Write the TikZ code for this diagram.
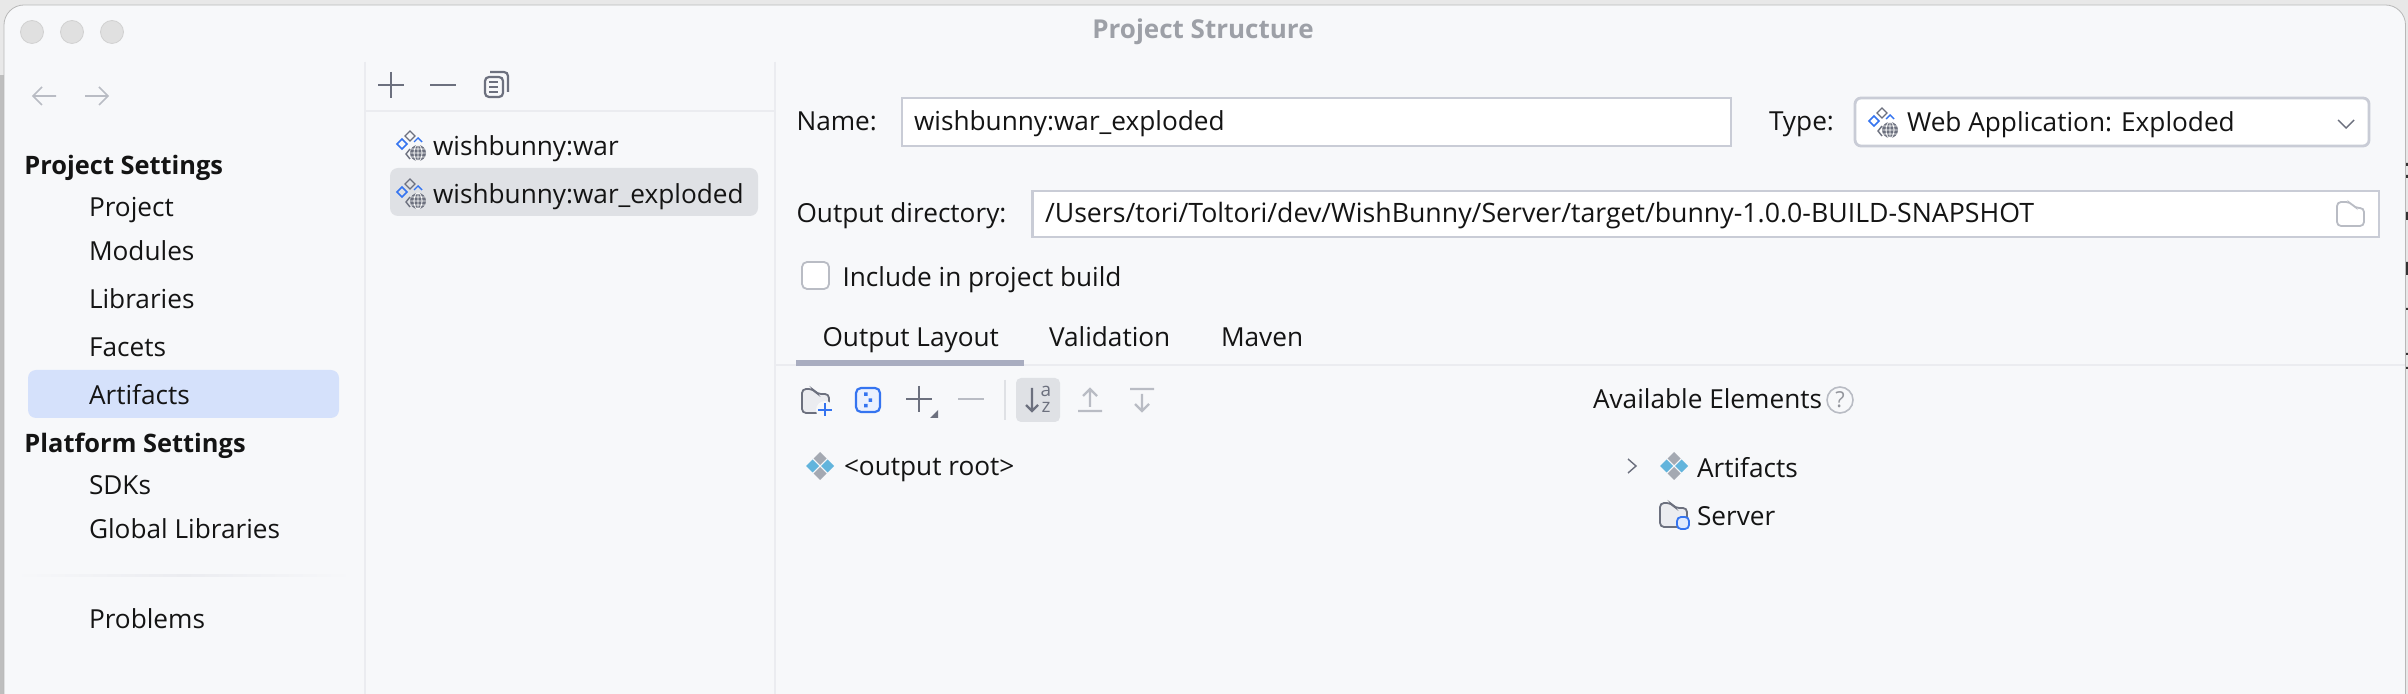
\documentclass[tikz,border=0pt]{standalone}
\usepackage{fontspec}
\setmainfont{Open Sans}
\usetikzlibrary{shapes,arrows}
\definecolor{winbg}{HTML}{F7F8FA}
\definecolor{outerbg}{HTML}{E8E8E8}
\definecolor{leftedge}{HTML}{BEBEBE}
\definecolor{divider}{HTML}{EBECF0}
\definecolor{fieldline}{HTML}{C9CCD6}
\definecolor{picked}{HTML}{DFE1E5}
\definecolor{pickedblue}{HTML}{D5E1FB}
\definecolor{iconblue}{HTML}{3574F0}
\definecolor{icongrey}{HTML}{6C707E}
\definecolor{icondim}{HTML}{B9BCC4}
\definecolor{skyblue}{HTML}{62B4DC}
\definecolor{stonegrey}{HTML}{A4A9B2}
\definecolor{tabline}{HTML}{A9ADC0}

\begin{document}
\begin{tikzpicture}
[x=0.5pt,y=-0.5pt]
\tikzset{
	uitext/.style = {anchor=base west, inner sep=0, outer sep=0, text=black!92, font=\fontsize{13.1}{16}\selectfont},
	head/.style = {uitext, font=\fontsize{12.7}{16}\selectfont\bfseries},
	field/.style = {draw=fieldline, line width=1.4pt, fill=white},
	thinline/.style = {draw=divider, line width=1pt},
	tool/.style = {draw=icongrey, line width=1.1pt},
	dimtool/.style = {draw=icondim, line width=1.1pt},
	light/.style = {circle, draw=black!18, fill=black!12, line width=0.4pt, minimum size=11.5pt, inner sep=0},
	artifact/.pic = {
		\fill[stonegrey] (0,-14) -- (6.5,-7.5) -- (0,-1) -- (-6.5,-7.5) -- cycle;
		\fill[stonegrey] (0,14) -- (6.5,7.5) -- (0,1) -- (-6.5,7.5) -- cycle;
		\fill[skyblue] (-14,0) -- (-7.5,6.5) -- (-1,0) -- (-7.5,-6.5) -- cycle;
		\fill[skyblue] (14,0) -- (7.5,6.5) -- (1,0) -- (7.5,-6.5) -- cycle;
	},
	webapp/.pic = {
		\draw[icongrey, line width=0.6pt] (0,-14) -- (5,-9) -- (0,-4) -- (-5,-9) -- cycle;
		\draw[iconblue, line width=0.8pt] (-8,-6) -- (-3,-1) -- (-8,4) -- (-13,-1) -- cycle;
		\draw[iconblue, line width=0.7pt] (4,-3) -- (8,-7) -- (12,-3);
		\draw[icongrey, line width=0.7pt] (0,4) -- (-4,9) -- (0,14);
		\fill[icongrey] (8,8) circle (8);
		\draw[white, line width=0.4pt] (8,0) -- (8,16) (0,8) -- (16,8) (8,8) ellipse (4 and 8) (1,4) -- (15,4) (1,12) -- (15,12);
	},
	folder/.pic = {
		\draw[icongrey, fill=divider, line width=0.9pt, rounded corners=2pt] (0,24) -- (0,0) -- (11,0) -- (15,5) -- (27,5) -- (27,24) -- cycle;
	}
}
\useasboundingbox (0,0) rectangle (2408,694);

% window and outside
\fill[outerbg] (0,0) rectangle (2408,694);
\fill[leftedge] (0,75) rectangle (4,694);
\fill[black!80] (2406,163) rectangle (2408,166) (2406,175) rectangle (2408,178) (2406,212) rectangle (2408,220) (2406,262) rectangle (2408,275) (2406,308) rectangle (2408,310) (2406,353) rectangle (2408,355) (2406,367) rectangle (2408,369);
\begin{scope}
\clip (0,0) rectangle (2408,694);
\fill[winbg, draw=black!28, line width=0.4pt, rounded corners=10pt] (4,720) -- (4,5) -- (2405.5,5) -- (2405.5,720);
\end{scope}

% title bar
\node (red) [light] at (32,32) {};
\node (amber) [light] at (72,32) {};
\node (green) [light] at (112,32) {};
\node (title) [uitext, anchor=center, text=icondim!85!black, font=\fontsize{13}{16}\selectfont\bfseries] at (1203,32) {Project Structure};

% panes
\draw[thinline] (365,62) -- (365,694);
\draw[thinline] (775,62) -- (775,694);
\draw[thinline] (365,111) -- (775,111);
\draw[thinline, line width=0.8pt] (775,365) -- (2405,365);

% side bar
\draw[icondim, line width=0.8pt] (56,96) -- (33,96) (42,87) -- (33,96) -- (42,105);
\draw[icondim, line width=0.8pt] (85,96) -- (108,96) (99,87) -- (108,96) -- (99,105);
\fill[pickedblue, rounded corners=4pt] (28,370) rectangle (339,418);
\node (settings) [head] at (24.5,174.5) {Project Settings};
\node (project) [uitext] at (89,217) {Project};
\node (modules) [uitext] at (89,260.5) {Modules};
\node (libraries) [uitext] at (89,308.5) {Libraries};
\node (facets) [uitext] at (89,356.5) {Facets};
\node (artifacts) [uitext] at (89,404.5) {Artifacts};
\node (platform) [head] at (24.5,453) {Platform Settings};
\node (sdks) [uitext] at (89,494.5) {SDKs};
\node (global) [uitext] at (89,538.5) {Global Libraries};
\shade[left color=winbg, right color=winbg, middle color=divider] (15,574) rectangle (352,576.5);
\node (problems) [uitext] at (89,628.5) {Problems};

% artifact list
\draw[tool] (391,72) -- (391,98) (378,85) -- (404,85);
\draw[tool] (430,85) -- (456,85);
\draw[tool, rounded corners=2pt] (485,77) rectangle (503,97);
\draw[tool, rounded corners=2pt] (490,72) -- (508,72) -- (508,92);
\draw[tool, line width=0.7pt] (489,82) -- (498,82) (489,87) -- (498,87) (489,92) -- (498,92);
\fill[picked, rounded corners=4pt] (390,168) rectangle (758,216);
\pic at (410,145) {webapp};
\node (war) [uitext] at (433,155.5) {wishbunny:war};
\pic at (410,193) {webapp};
\node (exploded) [uitext] at (433,203.5) {wishbunny:war\_exploded};

% form
\node (namelabel) [uitext] at (796.5,130.5) {Name:};
\draw[field] (902,98) rectangle (1731,146);
\node (namevalue) [uitext] at (914,130.5) {wishbunny:war\_exploded};
\node (typelabel) [uitext] at (1769,130.5) {Type:};
\draw[field, rounded corners=3pt] (1855,98) rectangle (2369,146);
\pic at (1882,122) {webapp};
\node (typevalue) [uitext] at (1907,132) {Web Application: Exploded};
\draw[icongrey, line width=0.7pt] (2338,120) -- (2346,128) -- (2354,120);
\node (outlabel) [uitext] at (796.5,222.5) {Output directory:};
\draw[field] (1032.5,191) rectangle (2379,237);
\node (outvalue) [uitext, font=\fontsize{13.35}{16}\selectfont] at (1045,222.5) {/Users/tori/Toltori/dev/WishBunny/Server/target/bunny-1.0.0-BUILD-SNAPSHOT};
\draw[icondim, fill=white, line width=0.9pt, rounded corners=2pt] (2337,226) -- (2337,202) -- (2350,202) -- (2355,208) -- (2364,208) -- (2364,226) -- cycle;
\draw[field, draw=icondim, line width=0.9pt, rounded corners=2.5pt] (802,262) rectangle (829,289);
\node (include) [uitext] at (842.5,286.5) {Include in project build};

% tabs
\node (layout) [uitext] at (822.5,347) {Output Layout};
\node (validation) [uitext] at (1049,347) {Validation};
\node (maven) [uitext] at (1221,347) {Maven};
\fill[tabline] (796,360) rectangle (1024,366);

% layout tool bar
\pic at (802,389) {folder};
\fill[winbg] (825,410) circle (9);
\draw[iconblue, line width=0.9pt] (825,403.5) -- (825,416.5) (818,410) -- (832,410);
\draw[iconblue, fill=iconblue!10, line width=1.1pt, rounded corners=2.5pt] (856,388) rectangle (880,412);
\fill[iconblue] (864,392.5) rectangle (867.5,396) (868.5,398.5) rectangle (872,402) (864,404) rectangle (867.5,407.5);
\draw[tool] (919,386) -- (919,412) (906,399) -- (932,399);
\fill[icongrey] (938,410) -- (938,418) -- (930,418) -- cycle;
\draw[dimtool] (958,399) -- (984,399);
\draw[thinline, draw=picked, line width=1pt] (1005,380) -- (1005,420);
\fill[picked, rounded corners=2.5pt] (1016,378) rectangle (1060,422);
\draw[tool] (1032,388) -- (1032,411) (1026,405) -- (1032,411) -- (1038,405);
\node (sorta) [uitext, anchor=center, text=icongrey, font=\fontsize{9.5}{9.5}\selectfont] at (1046,391.5) {a};
\node (sortz) [uitext, anchor=center, text=icongrey, font=\fontsize{9.5}{9.5}\selectfont] at (1046,407.5) {z};
\draw[dimtool] (1090,407) -- (1090,390) (1083,396) -- (1090,389) -- (1097,396) (1078,411) -- (1102,411);
\draw[dimtool] (1130,389) -- (1154,389) (1142,394) -- (1142,411) (1135,404) -- (1142,411) -- (1149,404);

% output tree
\pic at (820,466) {artifact};
\node (root) [uitext] at (844,476) {<output root>};

% available elements
\node (available) [uitext] at (1593,409) {Available Elements};
\node (help) [circle, draw=icondim, line width=0.8pt, minimum size=13pt, inner sep=0, text=icondim!80!black, font=\fontsize{11}{11}\selectfont] at (1840,400) {?};
\draw[icongrey, line width=0.7pt] (1628,459) -- (1636,466) -- (1628,473);
\pic at (1674,466) {artifact};
\node (avartifacts) [uitext] at (1697,477.5) {Artifacts};
\pic at (1660,503) {folder};
\draw[iconblue, fill=iconblue!15, line width=0.9pt, rounded corners=2pt] (1677,517) rectangle (1689,529);
\node (server) [uitext] at (1697,525.5) {Server};
\end{tikzpicture}
\end{document}
